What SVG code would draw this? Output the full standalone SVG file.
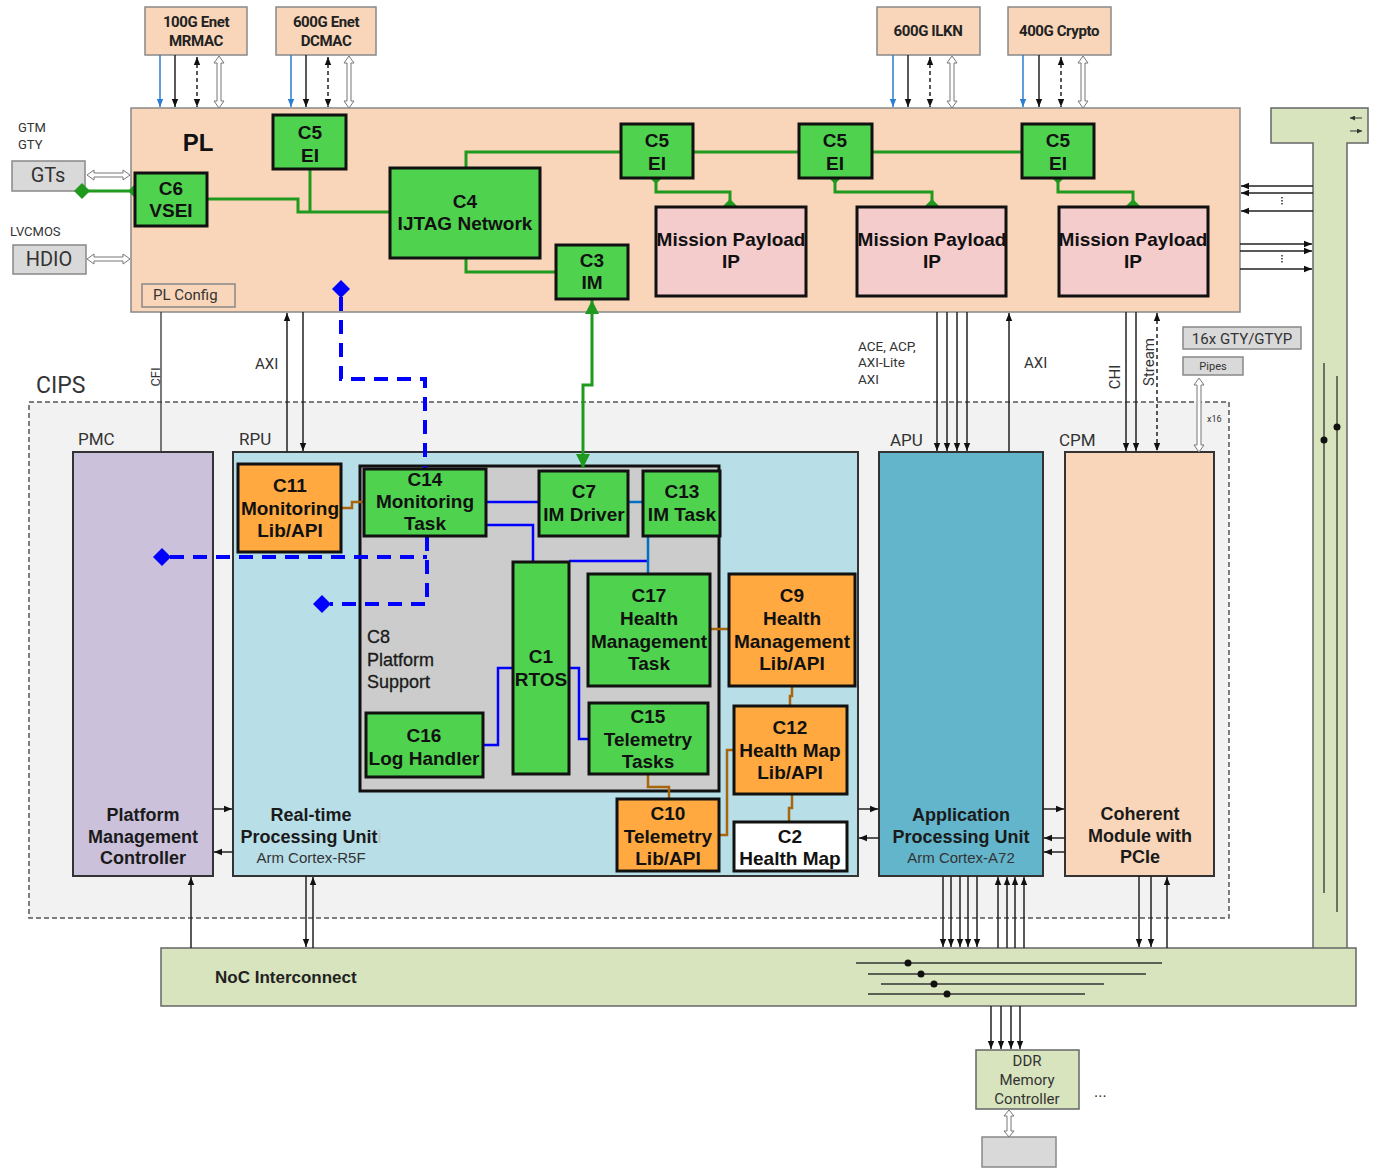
<svg xmlns="http://www.w3.org/2000/svg" width="1377" height="1174" viewBox="0 0 1377 1174">
<defs>
<style>
.n{font-family:"Liberation Sans",Arial,sans-serif;font-weight:bold;font-size:19px;fill:#111;text-anchor:middle}
.nb{font-family:"Liberation Sans",Arial,sans-serif;font-weight:bold;font-size:18px;fill:#1a1a1a;text-anchor:middle}
.sub{font-family:"Liberation Sans",Arial,sans-serif;font-size:15px;fill:#333;text-anchor:middle}
.pt{font-family:Roboto,"Liberation Sans",sans-serif;font-weight:bold;font-size:15px;fill:#222;text-anchor:middle;letter-spacing:-0.4px}
.lb{font-family:Roboto,"Liberation Sans",sans-serif;fill:#333}
.gbox{fill:#4fd34f;stroke:#111;stroke-width:3}
.obox{fill:#ffa940;stroke:#111;stroke-width:3}
.pbox{fill:#f4cccc;stroke:#111;stroke-width:3}
.wbox{fill:#fff;stroke:#111;stroke-width:3}
.peri{fill:#f9d6b9;stroke:#888;stroke-width:1.5}
.gray{fill:#d9d9d9;stroke:#888;stroke-width:1.5}
.blk{stroke:#333;stroke-width:2}
.gl{stroke:#1f9a1f;stroke-width:3;fill:none}
.bl{stroke:#0000ff;stroke-width:2.5;fill:none}
.bl2{stroke:#0070c0;stroke-width:2.5;fill:none}
.br{stroke:#a8650c;stroke-width:2.5;fill:none}
.bd{stroke:#0000ff;stroke-width:4;stroke-dasharray:14 9;fill:none}
.ar{stroke:#222;stroke-width:1.5;fill:none;marker-end:url(#a)}
.ard{stroke:#222;stroke-width:1.5;fill:none;stroke-dasharray:4 3;marker-start:url(#a);marker-end:url(#a)}
.arb{stroke:#2a7fd4;stroke-width:1.5;fill:none;marker-end:url(#ab)}
.ln{stroke:#333;stroke-width:1.3;fill:none}
.hol{fill:#fff;stroke:#777;stroke-width:1}
.gd{fill:#1f9a1f}
.bdm{fill:#0000ff}
</style>
<marker id="a" viewBox="0 0 10 10" refX="10" refY="5" markerWidth="8" markerHeight="8" markerUnits="userSpaceOnUse" orient="auto-start-reverse"><path d="M0,1L10,5L0,9z" fill="#111"/></marker>
<marker id="ab" viewBox="0 0 10 10" refX="10" refY="5" markerWidth="8" markerHeight="8" markerUnits="userSpaceOnUse" orient="auto-start-reverse"><path d="M0,1L10,5L0,9z" fill="#2a7fd4"/></marker>
<marker id="ag" viewBox="0 0 10 10" refX="10" refY="5" markerWidth="14" markerHeight="14" markerUnits="userSpaceOnUse" orient="auto-start-reverse"><path d="M0,0L10,5L0,10z" fill="#1f9a1f"/></marker>
<marker id="as" viewBox="0 0 10 10" refX="10" refY="5" markerWidth="5" markerHeight="5" markerUnits="userSpaceOnUse" orient="auto-start-reverse"><path d="M0,0L10,5L0,10z" fill="#333"/></marker>
</defs>
<rect width="1377" height="1174" fill="#fff"/>

<!-- containers -->
<g id="cips"><rect x="29" y="402" width="1200" height="516" fill="#f2f2f2" stroke="#555" stroke-width="1.5" stroke-dasharray="5 3"/><text class="lb" x="36" y="393" font-size="23" fill="#222">CIPS</text></g>
<g id="pl"><rect x="131" y="108" width="1109" height="204" fill="#f9d6b9" stroke="#888" stroke-width="1.5"/><text x="198" y="151" font-family="Liberation Sans,Arial,sans-serif" font-weight="bold" font-size="24" fill="#111" text-anchor="middle">PL</text></g>
<g id="plconfig"><rect x="142" y="284" width="93" height="23" fill="#f9d6b9" stroke="#888" stroke-width="1.5"/><text class="lb" x="153" y="300" font-size="15">PL Config</text></g>
<g id="pmc"><text class="lb" x="78" y="445" font-size="17">PMC</text><rect class="blk" x="73" y="452" width="140" height="424" fill="#ccc1da"/><text class="nb" x="143" y="821">Platform</text><text class="nb" x="143" y="843">Management</text><text class="nb" x="143" y="864">Controller</text></g>
<g id="rpu"><text class="lb" x="239" y="445" font-size="17">RPU</text><rect class="blk" x="233" y="452" width="625" height="424" fill="#b8dee8"/><text class="nb" x="311" y="821">Real-time</text><text class="nb" x="311" y="843">Processing Unit<tspan fill="#bbb" font-weight="normal">i</tspan></text><text class="sub" x="311" y="863">Arm Cortex-R5F</text></g>
<g id="c8"><rect x="360" y="466" width="359" height="325" fill="#cccccc" stroke="#111" stroke-width="3"/><text font-family="Liberation Sans,Arial,sans-serif" font-size="18" fill="#1a1a1a" stroke="#1a1a1a" stroke-width="0.3" x="367" y="643">C8</text><text font-family="Liberation Sans,Arial,sans-serif" font-size="18" fill="#1a1a1a" stroke="#1a1a1a" stroke-width="0.3" x="367" y="666">Platform</text><text font-family="Liberation Sans,Arial,sans-serif" font-size="18" fill="#1a1a1a" stroke="#1a1a1a" stroke-width="0.3" x="367" y="688">Support</text></g>
<g id="apu"><text class="lb" x="890" y="446" font-size="17">APU</text><rect class="blk" x="879" y="452" width="164" height="424" fill="#63b5cc"/><text class="nb" x="961" y="821">Application</text><text class="nb" x="961" y="843">Processing Unit</text><text class="sub" x="961" y="863">Arm Cortex-A72</text></g>
<g id="cpm"><text class="lb" x="1059" y="446" font-size="17">CPM</text><rect class="blk" x="1065" y="452" width="149" height="424" fill="#f9d6b9"/><text class="nb" x="1140" y="820">Coherent</text><text class="nb" x="1140" y="842">Module with</text><text class="nb" x="1140" y="863">PCIe</text></g>
<g id="gtybar"><path d="M1271,108 H1368 V143 H1347 V950 H1313 V143 H1271 Z" fill="#d8e4bd" stroke="#666" stroke-width="1.5"/><path class="ln" d="M1324,363 V893 M1337,376 V912"/><circle cx="1324" cy="440" r="3.5" fill="#111"/><circle cx="1337" cy="427" r="3.5" fill="#111"/><line x1="1362" y1="118" x2="1350" y2="118" stroke="#333" stroke-width="1" marker-end="url(#as)"/><line x1="1350" y1="131" x2="1362" y2="131" stroke="#333" stroke-width="1" marker-end="url(#as)"/></g>
<g id="noc"><rect x="161" y="948" width="1195" height="58" fill="#d8e4bd" stroke="#666" stroke-width="1.5"/><text x="215" y="983" font-family="Liberation Sans,Arial,sans-serif" font-weight="bold" font-size="17" fill="#222">NoC Interconnect</text><path class="ln" d="M856,963 H1162 M868,974 H1146 M881,984 H1104 M868,994 H1085"/><circle cx="908" cy="963" r="3.5" fill="#111"/><circle cx="921" cy="974" r="3.5" fill="#111"/><circle cx="934" cy="984" r="3.5" fill="#111"/><circle cx="947" cy="994" r="3.5" fill="#111"/></g>

<!-- peripheral nodes -->
<g id="mrmac"><rect class="peri" x="145" y="7" width="102" height="48"/><text class="pt" x="196" y="27">100G Enet</text><text class="pt" x="196" y="46">MRMAC</text></g>
<g id="dcmac"><rect class="peri" x="276" y="7" width="100" height="48"/><text class="pt" x="326" y="27">600G Enet</text><text class="pt" x="326" y="46">DCMAC</text></g>
<g id="ilkn"><rect class="peri" x="877" y="7" width="103" height="48"/><text class="pt" x="928" y="36">600G ILKN</text></g>
<g id="crypto"><rect class="peri" x="1008" y="7" width="103" height="48"/><text class="pt" x="1059" y="36">400G Crypto</text></g>
<g id="gts"><text class="lb" x="18" y="132" font-size="13">GTM</text><text class="lb" x="18" y="149" font-size="13">GTY</text><rect class="gray" x="12" y="161" width="73" height="30"/><text class="lb" x="48" y="182" font-size="20" text-anchor="middle">GTs</text></g>
<g id="hdio"><text class="lb" x="10" y="236" font-size="13">LVCMOS</text><rect class="gray" x="13" y="245" width="73" height="29"/><text class="lb" x="49" y="266" font-size="20" text-anchor="middle">HDIO</text></g>
<g id="gtyp"><rect class="gray" x="1183" y="327" width="118" height="22"/><text class="lb" x="1242" y="344" font-size="15" text-anchor="middle">16x GTY/GTYP</text><rect class="gray" x="1183" y="357" width="60" height="18"/><text class="lb" x="1213" y="370" font-size="11" text-anchor="middle">Pipes</text><text class="lb" x="1207" y="422" font-size="9" fill="#666">x16</text></g>
<g id="ddr"><rect x="976" y="1050" width="103" height="59" fill="#d8e4bd" stroke="#666" stroke-width="1.5"/><text class="lb" x="1027" y="1066" font-size="15" text-anchor="middle">DDR</text><text class="lb" x="1027" y="1085" font-size="15" text-anchor="middle">Memory</text><text class="lb" x="1027" y="1104" font-size="15" text-anchor="middle">Controller</text><text class="lb" x="1094" y="1097" font-size="16" fill="#999">...</text></g>
<g id="mem"><rect class="gray" x="982" y="1137" width="74" height="30"/></g>

<!-- connectors -->
<g id="connectors">
<path class="arb" d="M160,55 V107"/><path class="arb" d="M291,55 V107"/><path class="arb" d="M893,55 V107"/><path class="arb" d="M1023,55 V107"/>
<path class="ar" d="M175,55 V107"/><path class="ar" d="M306,55 V107"/><path class="ar" d="M908,55 V107"/><path class="ar" d="M1039,55 V107"/>
<path class="ard" d="M197,57 V107"/><path class="ard" d="M328,57 V107"/><path class="ard" d="M930,57 V107"/><path class="ard" d="M1061,57 V107"/>
<polygon class="hol" points="219,56 224,63 221,63 221,101 224,101 219,108 214,101 217,101 217,63 214,63"/>
<polygon class="hol" points="349,56 354,63 351,63 351,101 354,101 349,108 344,101 347,101 347,63 344,63"/>
<polygon class="hol" points="952,56 957,63 954,63 954,101 957,101 952,108 947,101 950,101 950,63 947,63"/>
<polygon class="hol" points="1083,56 1088,63 1085,63 1085,101 1088,101 1083,108 1078,101 1081,101 1081,63 1078,63"/>
<polygon class="hol" points="87,175 94,170 94,173 123,173 123,170 130,175 123,180 123,177 94,177 94,180"/>
<polygon class="hol" points="87,259 94,254 94,257 123,257 123,254 130,259 123,264 123,261 94,261 94,264"/>
<polygon class="hol" points="1199,378 1204,385 1201,385 1201,445 1204,445 1199,452 1194,445 1197,445 1197,385 1194,385"/>
<polygon class="hol" points="1009,1110 1014,1116 1011,1116 1011,1131 1014,1131 1009,1137 1004,1131 1007,1131 1007,1116 1004,1116"/>
<path class="ar" d="M1313,186 H1241"/><path class="ar" d="M1313,193 H1241"/><path class="ar" d="M1313,211 H1241"/>
<path class="ar" d="M1240,244 H1312"/><path class="ar" d="M1240,251 H1312"/><path class="ar" d="M1240,269 H1312"/>
<path d="M1282,197 V206 M1282,255 V264" stroke="#333" stroke-width="1.5" stroke-dasharray="1.5 1.5"/>
<path class="ln" d="M161,312 V452"/>
<text class="lb" transform="translate(160,377) rotate(-90)" font-size="13" text-anchor="middle">CFI</text>
<path class="ar" d="M287,452 V313"/><path class="ar" d="M303,312 V451"/>
<text class="lb" x="255" y="369" font-size="15">AXI</text>
<path class="ar" d="M937,312 V451"/><path class="ar" d="M947,312 V451"/><path class="ar" d="M957,312 V451"/><path class="ar" d="M967,312 V451"/>
<text class="lb" x="858" y="351" font-size="13.5">ACE, ACP,</text><text class="lb" x="858" y="367" font-size="13.5">AXI-Lite</text><text class="lb" x="858" y="384" font-size="13.5">AXI</text>
<path class="ar" d="M1009,452 V313"/>
<text class="lb" x="1024" y="368" font-size="15">AXI</text>
<path class="ar" d="M1126,312 V451"/><path class="ar" d="M1136,312 V451"/>
<path class="ard" d="M1157,313 V451"/>
<text class="lb" transform="translate(1120,377) rotate(-90)" font-size="15" text-anchor="middle">CHI</text>
<text class="lb" transform="translate(1154,362) rotate(-90)" font-size="15" text-anchor="middle">Stream</text>
<path class="ar" d="M213,809 H232"/><path class="ar" d="M233,852 H214"/>
<path class="ar" d="M858,809 H878"/><path class="ar" d="M879,838 H859"/>
<path class="ar" d="M1043,809 H1064"/><path class="ar" d="M1065,838 H1044"/><path class="ar" d="M1065,852 H1044"/>
<path class="ar" d="M191,948 V877"/><path class="ar" d="M306,876 V947"/><path class="ar" d="M313,948 V877"/>
<path class="ar" d="M943,876 V947"/><path class="ar" d="M951,876 V947"/><path class="ar" d="M960,876 V947"/><path class="ar" d="M968,876 V947"/><path class="ar" d="M977,876 V947"/>
<path class="ar" d="M998,948 V877"/><path class="ar" d="M1007,948 V877"/><path class="ar" d="M1015,948 V877"/><path class="ar" d="M1024,948 V877"/>
<path class="ar" d="M1139,876 V947"/><path class="ar" d="M1151,876 V947"/><path class="ar" d="M1167,948 V877"/>
<path class="ar" d="M991,1006 V1049"/><path class="ar" d="M1001,1006 V1049"/><path class="ar" d="M1011,1006 V1049"/><path class="ar" d="M1020,1006 V1049"/>
<path class="gl" d="M82,191 H136"/>
<path class="gl" d="M207,199 H298 V212 H390 M310,169 V212"/>
<path class="gl" d="M466,168 V152 H621 M693,152 H799 M872,152 H1022 M466,258 V272 H556"/>
<path class="gl" d="M656,177 V192 H730 V206 M835,177 V192 H932 V206 M1058,177 V192 H1133 V206"/>
<path class="gl" d="M592,300 V385 H583 V468" marker-start="url(#ag)" marker-end="url(#ag)"/>
<polygon class="gd" points="82,183 90,191 82,199 74,191"/><polygon class="gd" points="136,183 144,191 136,199 128,191"/>
<polygon class="gd" points="656,170 663,177 656,184 649,177"/><polygon class="gd" points="730,199 737,206 730,213 723,206"/>
<polygon class="gd" points="835,170 842,177 835,184 828,177"/><polygon class="gd" points="932,199 939,206 932,213 925,206"/>
<polygon class="gd" points="1058,170 1065,177 1058,184 1051,177"/><polygon class="gd" points="1133,199 1140,206 1133,213 1126,206"/>
<path class="bl" d="M486,502 H539 M486,525 H533 V561 M569,561 H648 M483,745 H498 V668 H513 M569,668 H579 V739 H589"/>
<path class="bl2" d="M628,502 H643 M648,536 V575"/>
<path class="br" d="M341,508 H352 V502 H364 M710,629 H729 M792,686 V696 H790 V706 M648,774 V787 H669 V799 M719,835 H727 V750 H734 M792,794 V808 H789 V822"/>
<path class="bd" d="M341,297 V379 H425 V469 M427,537 V604 H330 M170,557 H427"/>
<polygon class="bdm" points="341,280 350,289 341,298 332,289"/>
<polygon class="bdm" points="162,548 171,557 162,566 153,557"/>
<polygon class="bdm" points="322,595 331,604 322,613 313,604"/>
</g>

<!-- component nodes -->
<g id="c6"><rect class="gbox" x="135" y="173" width="72" height="53"/><text class="n" x="171" y="195">C6</text><text class="n" x="171" y="217">VSEI</text></g>
<g id="c5a"><rect class="gbox" x="273" y="115" width="73" height="54"/><text class="n" x="310" y="139">C5</text><text class="n" x="310" y="162">EI</text></g>
<g id="c4"><rect class="gbox" x="390" y="168" width="150" height="90"/><text class="n" x="465" y="208">C4</text><text class="n" x="465" y="230">IJTAG Network</text></g>
<g id="c3"><rect class="gbox" x="556" y="245" width="72" height="54"/><text class="n" x="592" y="267">C3</text><text class="n" x="592" y="289">IM</text></g>
<g id="c5b"><rect class="gbox" x="621" y="124" width="72" height="54"/><text class="n" x="657" y="147">C5</text><text class="n" x="657" y="170">EI</text></g>
<g id="c5c"><rect class="gbox" x="799" y="124" width="73" height="54"/><text class="n" x="835" y="147">C5</text><text class="n" x="835" y="170">EI</text></g>
<g id="c5d"><rect class="gbox" x="1022" y="124" width="72" height="54"/><text class="n" x="1058" y="147">C5</text><text class="n" x="1058" y="170">EI</text></g>
<g id="mp1"><rect class="pbox" x="656" y="207" width="150" height="89"/><text class="n" x="731" y="246">Mission Payload</text><text class="n" x="731" y="268">IP</text></g>
<g id="mp2"><rect class="pbox" x="857" y="207" width="149" height="89"/><text class="n" x="932" y="246">Mission Payload</text><text class="n" x="932" y="268">IP</text></g>
<g id="mp3"><rect class="pbox" x="1059" y="207" width="149" height="89"/><text class="n" x="1133" y="246">Mission Payload</text><text class="n" x="1133" y="268">IP</text></g>
<g id="c11"><rect class="obox" x="238" y="464" width="103" height="88"/><text class="n" x="290" y="492">C11</text><text class="n" x="290" y="515">Monitoring</text><text class="n" x="290" y="537">Lib/API</text></g>
<g id="c14"><rect class="gbox" x="364" y="469" width="122" height="67"/><text class="n" x="425" y="486">C14</text><text class="n" x="425" y="508">Monitoring</text><text class="n" x="425" y="530">Task</text></g>
<g id="c7"><rect class="gbox" x="539" y="471" width="89" height="65"/><text class="n" x="584" y="498">C7</text><text class="n" x="584" y="521">IM Driver</text></g>
<g id="c13"><rect class="gbox" x="643" y="471" width="77" height="65"/><text class="n" x="682" y="498">C13</text><text class="n" x="682" y="521">IM Task</text></g>
<g id="c1"><rect class="gbox" x="513" y="562" width="56" height="212"/><text class="n" x="541" y="663">C1</text><text class="n" x="541" y="686">RTOS</text></g>
<g id="c17"><rect class="gbox" x="588" y="574" width="122" height="112"/><text class="n" x="649" y="602">C17</text><text class="n" x="649" y="625">Health</text><text class="n" x="649" y="648">Management</text><text class="n" x="649" y="670">Task</text></g>
<g id="c9"><rect class="obox" x="729" y="574" width="126" height="112"/><text class="n" x="792" y="602">C9</text><text class="n" x="792" y="625">Health</text><text class="n" x="792" y="648">Management</text><text class="n" x="792" y="670">Lib/API</text></g>
<g id="c16"><rect class="gbox" x="366" y="713" width="117" height="64"/><text class="n" x="424" y="742">C16</text><text class="n" x="424" y="765">Log Handler</text></g>
<g id="c15"><rect class="gbox" x="589" y="703" width="119" height="71"/><text class="n" x="648" y="723">C15</text><text class="n" x="648" y="746">Telemetry</text><text class="n" x="648" y="768">Tasks</text></g>
<g id="c12"><rect class="obox" x="734" y="706" width="113" height="88"/><text class="n" x="790" y="734">C12</text><text class="n" x="790" y="757">Health Map</text><text class="n" x="790" y="779">Lib/API</text></g>
<g id="c10"><rect class="obox" x="617" y="799" width="102" height="72"/><text class="n" x="668" y="820">C10</text><text class="n" x="668" y="843">Telemetry</text><text class="n" x="668" y="865">Lib/API</text></g>
<g id="c2"><rect class="wbox" x="734" y="822" width="113" height="49"/><text class="n" x="790" y="843">C2</text><text class="n" x="790" y="865">Health Map</text></g>
</svg>
